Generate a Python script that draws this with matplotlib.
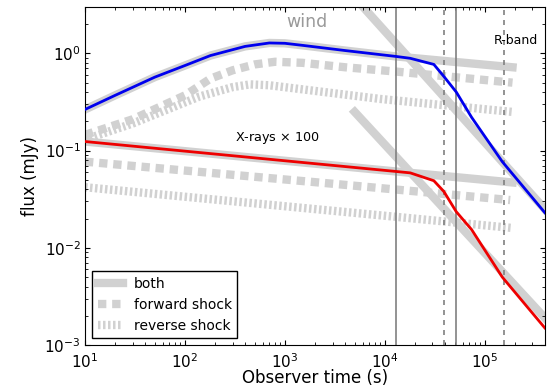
import matplotlib
matplotlib.use('Agg')
import matplotlib.pyplot as plt

# R-band (blue) and X-ray x100 (red) light curves, wind medium
t_blue = [10, 20, 50, 100, 180, 400, 700, 1000, 1500, 4000, 13000, 18000,
          31000, 39000, 52000, 74000, 150000, 400000]
f_blue = [0.265, 0.37, 0.57, 0.75, 0.95, 1.18, 1.28, 1.27, 1.21, 1.07, 0.93,
          0.89, 0.77, 0.58, 0.40, 0.22, 0.077, 0.023]

t_red = [10, 13000, 18000, 31000, 39000, 52000, 74000, 150000, 400000]
f_red = [0.124, 0.061, 0.059, 0.049, 0.038, 0.0235, 0.0154, 0.0050, 0.0015]

# gray model components ("both", forward shock, reverse shock)
t_both_R = [10, 20, 50, 100, 180, 400, 700, 1000, 1500, 4000, 13000, 190000]
f_both_R = [0.265, 0.37, 0.57, 0.75, 0.95, 1.18, 1.28, 1.27, 1.21, 1.07, 0.93, 0.72]
t_steep_R = [5000, 400000]
f_steep_R = [3.75, 0.025]

t_fs_R = [10, 30, 100, 180, 300, 500, 800, 1500, 4000, 13000, 190000]
f_fs_R = [0.145, 0.21, 0.37, 0.55, 0.67, 0.77, 0.82, 0.80, 0.72, 0.65, 0.50]
t_rs_R = [10, 30, 140, 300, 450, 700, 9000, 190000]
f_rs_R = [0.13, 0.19, 0.36, 0.45, 0.48, 0.47, 0.34, 0.25]

t_both_X = [10, 13000, 190000]
f_both_X = [0.124, 0.061, 0.047]
t_steep_X = [5000, 400000]
f_steep_X = [0.25, 0.0019]

t_fs_X = [10, 3500, 180000]
f_fs_X = [0.077, 0.045, 0.031]
t_rs_X = [10, 3500, 190000]
f_rs_X = [0.042, 0.0237, 0.016]

t_solid = [13000, 52000]
t_dashed = [39000, 155000]

gray = '0.82'

fig = plt.figure(figsize=(5.52, 3.89), dpi=100)
ax = fig.add_axes([0.154, 0.113, 0.833, 0.869])

ax.plot(t_both_R, f_both_R, color=gray, lw=6, label='both', zorder=1)
ax.plot(t_steep_R, f_steep_R, color=gray, lw=6, zorder=1)
ax.plot(t_both_X, f_both_X, color=gray, lw=6, zorder=1)
ax.plot(t_steep_X, f_steep_X, color=gray, lw=6, zorder=1)

ax.plot(t_fs_R, f_fs_R, color=gray, lw=6, dashes=(1.0, 0.7),
        label='forward shock', zorder=1)
ax.plot(t_fs_X, f_fs_X, color=gray, lw=6, dashes=(1.0, 0.7), zorder=1)
ax.plot(t_rs_R, f_rs_R, color=gray, lw=6, dashes=(0.3, 0.3),
        label='reverse shock', zorder=1)
ax.plot(t_rs_X, f_rs_X, color=gray, lw=6, dashes=(0.3, 0.3), zorder=1)

for t in t_solid:
    ax.axvline(t, color='0.5', lw=1.2, zorder=2)
for t in t_dashed:
    ax.axvline(t, color='0.5', lw=1.2, dashes=(3, 3), zorder=2)

ax.plot(t_blue, f_blue, color='#0000ee', lw=2, zorder=3)
ax.plot(t_red, f_red, color='#ee0000', lw=2, zorder=3)

ax.text(1660, 2.1, 'wind', color='0.6', fontsize=12.5, ha='center', va='center')
ax.text(316, 0.136, r'X-rays $\times$ 100', fontsize=9.2, va='center')
ax.text(1.23e5, 1.36, 'R-band', fontsize=9, va='center')

ax.set_xscale('log')
ax.set_yscale('log')
ax.set_xlim(10, 4e5)
ax.set_ylim(1e-3, 3)
ax.tick_params(which='both', direction='in', top=True, right=True, labelsize=11)
ax.tick_params(axis='x', pad=5)
ax.tick_params(axis='y', pad=3)
ax.set_xlabel('Observer time (s)', fontsize=12, labelpad=-1)
ax.set_ylabel('flux (mJy)', fontsize=12)

leg = ax.legend(loc='lower left', fontsize=10, handlelength=1.8,
                fancybox=False, framealpha=1, edgecolor='k', borderaxespad=0.5)
leg.get_frame().set_linewidth(1.0)

fig.savefig('out.png', dpi=100)
